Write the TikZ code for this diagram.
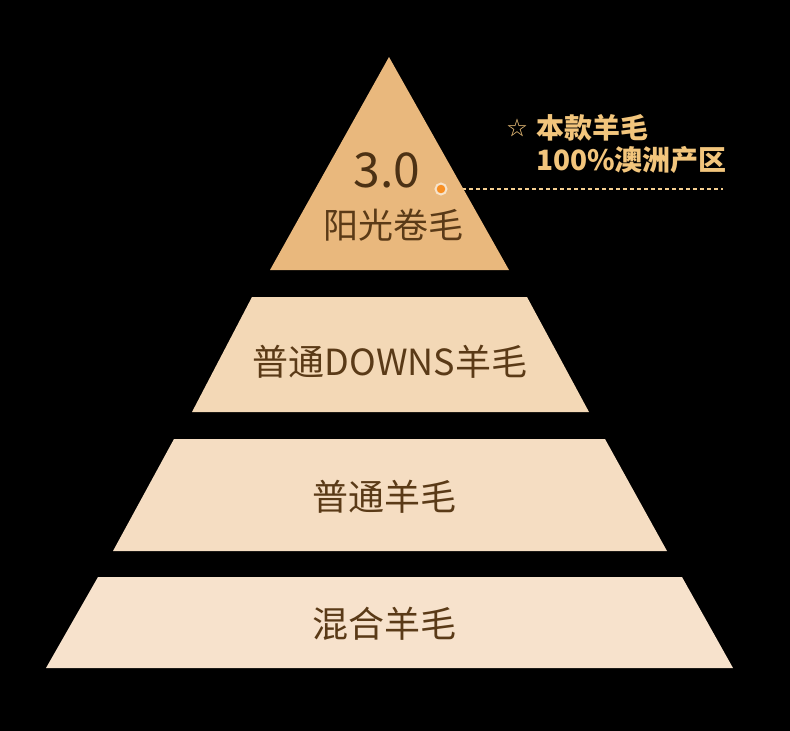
\documentclass[tikz,border=0pt]{standalone}
\usepackage{fontspec}
\setmainfont{Noto Sans CJK SC}
\usetikzlibrary{positioning}

\definecolor{topgold}{HTML}{E9B87D}
\definecolor{tiertwo}{HTML}{F3D8B6}
\definecolor{tierthree}{HTML}{F5DDC2}
\definecolor{tierfour}{HTML}{F7E2CC}
\definecolor{woolbrown}{HTML}{5A3A17}
\definecolor{notegold}{HTML}{F2C57C}

\begin{document}
\begin{tikzpicture}[x=1pt, y=-1pt,
    tierlabel/.style={text=woolbrown, font=\fontsize{36}{36}\selectfont, inner sep=0pt},
    note/.style={text=notegold, font=\bfseries\fontsize{28}{28}\selectfont, inner sep=0pt}]

  % background
  \fill[black] (0,0) rectangle (790,731);

  % leader line (drawn first, the tip hides its start)
  \coordinate (dotpos) at (441,189);
  \coordinate (lineend) at (723,189);
  \draw[notegold!85!white, line width=1.5pt, dash pattern=on 4pt off 3pt] (dotpos) -- (lineend);

  % pyramid
  \fill[topgold] (389,57) -- (509,270) -- (270,270) -- cycle;
  \fill[tiertwo] (252,297) -- (527,297) -- (589,412) -- (192,412) -- cycle;
  \fill[tierthree] (174,439) -- (605,439) -- (667,551) -- (113,551) -- cycle;
  \fill[tierfour] (98,577) -- (682,577) -- (733,668) -- (46,668) -- cycle;

  \node[tierlabel, font=\fontsize{48}{48}\selectfont, text=woolbrown!85!black] (level) at (387,170) {3.0};
  \node[tierlabel, font=\fontsize{35}{35}\selectfont] (sunny) at (393,225) {阳光卷毛};
  \node[tierlabel] (downs) at (390,362) {普通DOWNS羊毛};
  \node[tierlabel] (plain) at (384,497) {普通羊毛};
  \node[tierlabel] (mixed) at (384,624) {混合羊毛};

  % marker dot
  \node[circle, fill=orange!70!topgold, draw=topgold!40!white, line width=2pt,
        minimum size=11pt, inner sep=0pt] (dot) at (dotpos) {};

  % note
  \node[note, anchor=west] (notetop) at (536,128) {本款羊毛};
  \node[note, anchor=west] (notebottom) at (536,160) {100\%澳洲产区};
  \node[note, font=\fontsize{20}{20}\selectfont, left=8pt of notetop] (star) {☆};

\end{tikzpicture}
\end{document}
